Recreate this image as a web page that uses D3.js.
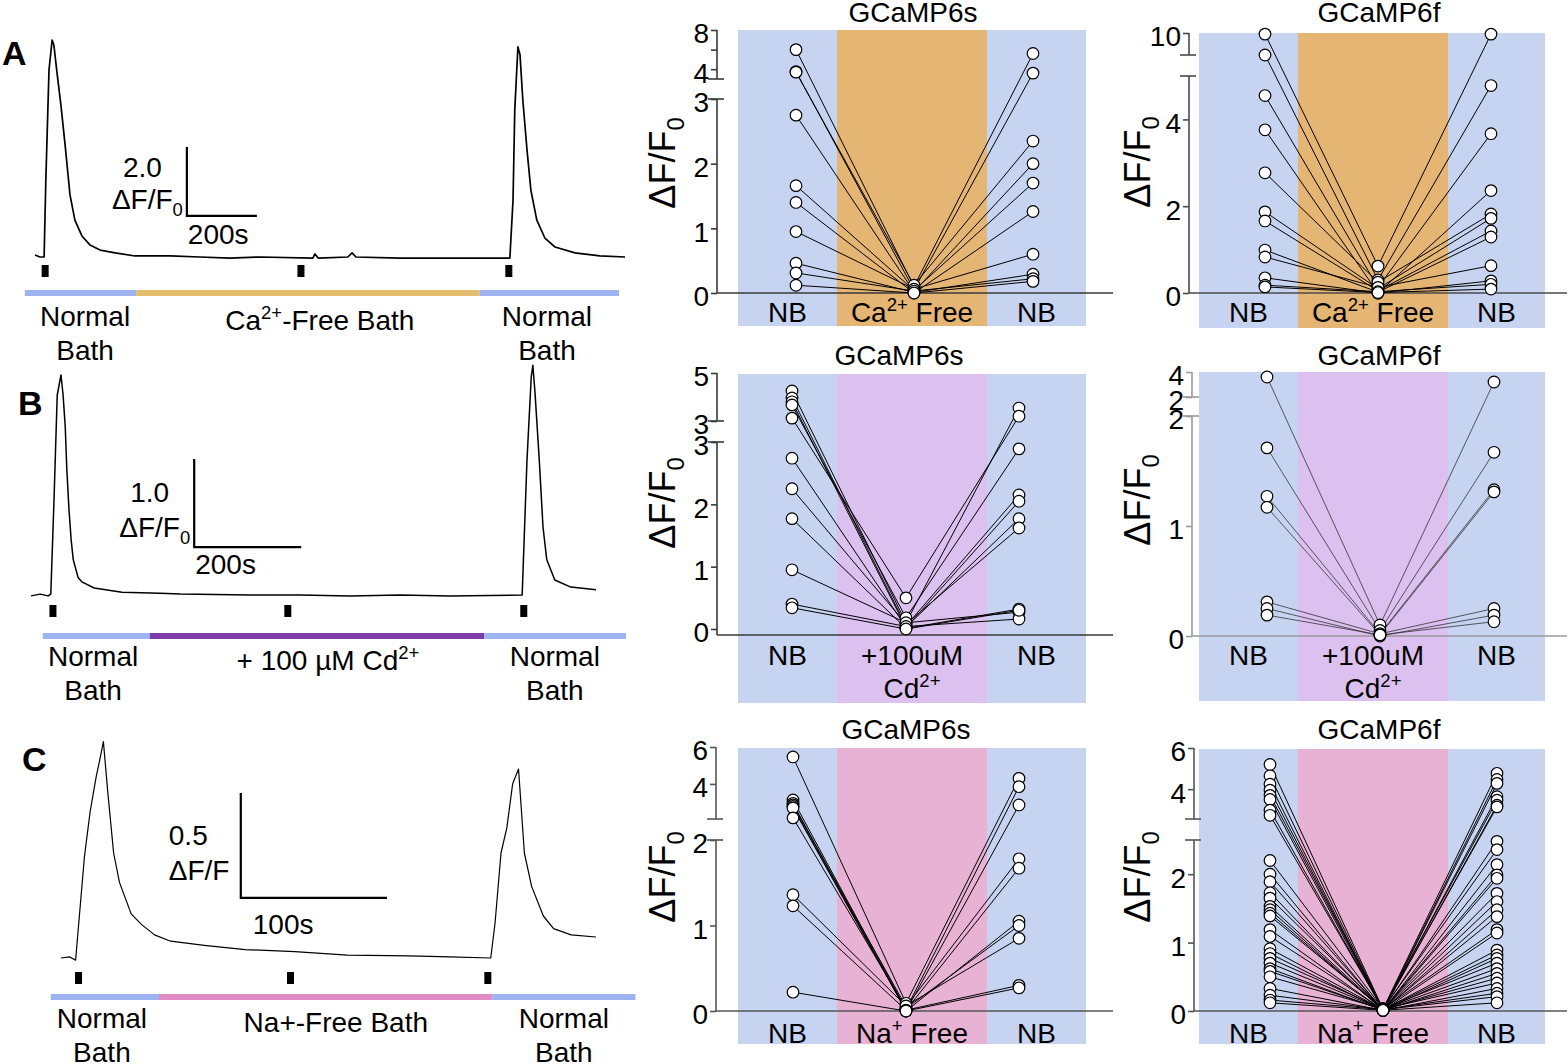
<!DOCTYPE html>
<html>
<head>
<meta charset="utf-8">
<title>Calcium imaging – bath substitution</title>
<script src="https://d3js.org/d3.v7.min.js"></script>
<style>
html, body { margin: 0; padding: 0; background: #fff; }
svg { display: block; font-family: "Liberation Sans", Arial, Helvetica, sans-serif; }
</style>
</head>
<body>
<div id="chart"></div>
<script>
// ---- example traces (time in s, dF/F0) ----
var traceA_t = [0, 14, 26, 31, 40, 49, 54, 63, 74, 86, 100, 114, 134, 157, 186, 229, 286, 386, 471, 557,
  643, 794, 800, 809, 894, 906, 917, 1043, 1186, 1357, 1366, 1371, 1380, 1386, 1394, 1406, 1417, 1434, 1457, 1486,
  1543, 1614, 1686];
var traceA_v = [0.06, 0, 0, 2.23, 5.42, 6.29, 6.14, 5.33, 4.41, 3.25, 1.80, 1.07, 0.61, 0.35, 0.20, 0.12, 0.03, 0.03, 0, -0.03,
  0, -0.03, 0.09, -0.03, 0, 0.12, 0, -0.03, -0.03, -0.03, 1.65, 4.26, 6.09, 5.86, 4.55, 3.10, 1.94, 1.07, 0.55, 0.29,
  0.12, 0.03, 0];
var traceB_t = [0, 17, 32, 37, 43, 49, 56, 60, 64, 67, 71, 75, 79, 88, 95, 118, 170, 241, 279, 409,
  503, 596, 690, 783, 918, 927, 935, 938, 942, 950, 957, 964, 979, 1009, 1056];
var traceB_v = [-0.01, 0.01, -0.01, 0.01, 1.08, 2.27, 2.5, 2.27, 1.91, 1.42, 0.97, 0.63, 0.40, 0.20, 0.15, 0.08, 0.03, 0.02, 0.01, 0,
  0, -0.01, 0, -0.01, 0, 1.53, 2.48, 2.61, 2.30, 1.53, 0.77, 0.40, 0.17, 0.09, 0.06];
var traceC_t = [0, 6, 10, 16, 20, 24, 27, 29, 32, 36, 40, 48, 55, 64, 75, 98, 126, 160, 196, 238,
  266, 294, 297, 301, 305, 309, 313, 317, 322, 330, 337, 349, 366];
var traceC_v = [0, 0.005, -0.01, 0.48, 0.70, 0.86, 0.96, 1.03, 0.79, 0.50, 0.36, 0.21, 0.16, 0.11, 0.08, 0.06, 0.04, 0.03, 0.014, 0.01,
  0.005, 0, 0.17, 0.50, 0.62, 0.83, 0.90, 0.50, 0.34, 0.20, 0.14, 0.11, 0.10];

// stimulus times and perfusion periods (s)
var stimA = [29, 760, 1354], stimB = [41, 480, 921], stimC = [12, 157, 292];
var periodsA = [-29, 289, 1271, 1669];
var periodsB = [22, 222, 847, 1112];
var periodsC = [-7, 67, 295, 393];

// ---- paired responses: NB -> treatment -> NB ----
var a6s_nb1 = [6.0, 3.75, 3.7, 2.75, 1.66, 1.40, 0.95, 0.46, 0.31, 0.12];
var a6s_trt = [0.1, 0.05, 0.12, 0.02, 0.04, 0.0, 0.06, 0.01, 0.03, 0.0];
var a6s_nb2 = [5.6, 3.6, 2.35, 2.0, 1.7, 1.26, 0.6, 0.29, 0.22, 0.18];

var a6f_nb1 = [9.9, 8.0, 4.55, 3.76, 2.77, 1.87, 1.66, 0.99, 0.83, 0.35, 0.18, 0.14];
var a6f_trt = [0.62, 0.30, 0.13, 0.0, 0.25, 0.1, 0.05, 0.02, 0.13, 0.0, 0.03, 0.01];
var a6f_nb2 = [9.9, 4.78, 3.67, 2.36, 1.82, 1.72, 1.43, 1.29, 0.63, 0.28, 0.20, 0.09];

var b6s_nb1 = [4.25, 3.96, 3.8, 3.67, 3.12, 2.74, 2.25, 1.77, 0.95, 0.40, 0.34];
var b6s_trt = [0.1, 0.05, 0.02, 0.18, 0.5, 0.03, 0.08, 0.01, 0.1, 0.04, 0.0];
var b6s_nb2 = [3.54, 2.15, 2.05, 2.89, 3.2, 1.77, 1.62, 0.32, 0.27, 0.16, 0.3];

var b6f_nb1 = [3.6, 1.71, 1.27, 1.17, 0.31, 0.25, 0.19];
var b6f_trt = [0.1, 0.05, 0.02, 0.01, 0.02, 0.0, 0.01];
var b6f_nb2 = [3.2, 1.67, 1.33, 1.31, 0.25, 0.19, 0.13];

var c6s_nb1 = [5.46, 3.13, 2.95, 2.86, 2.78, 2.7, 2.16, 1.36, 1.23, 0.22];
var c6s_trt = [0.09, 0.02, 0.0, 0.05, 0.01, 0.0, 0.03, 0.06, 0.01, 0.0];
var c6s_nb2 = [4.3, 3.85, 2.86, 1.78, 1.67, 1.05, 1.0, 0.85, 0.3, 0.27];

var c6f_nb1 = [5.2, 4.65, 4.24, 3.95, 3.7, 3.5, 2.98, 2.73, 2.2, 2.0, 1.89, 1.73, 1.65, 1.53, 1.48,
  1.43, 1.39, 1.19, 1.09, 0.91, 0.84, 0.77, 0.70, 0.62, 0.58, 0.50, 0.33, 0.23, 0.16, 0.12];
var c6f_trt = [0.03, 0.02, 0.01, 0.02, 0.03, 0.01, 0.02, 0.02, 0.03, 0.01, 0.02, 0.01, 0.03, 0.02, 0.01,
  0.02, 0.03, 0.01, 0.02, 0.02, 0.01, 0.03, 0.02, 0.01, 0.02, 0.03, 0.01, 0.02, 0.02, 0.01];
var c6f_nb2 = [4.77, 4.47, 4.28, 3.63, 3.46, 3.22, 3.14, 2.48, 2.36, 2.14, 1.99, 1.94, 1.72, 1.6, 1.48,
  1.38, 1.19, 1.14, 0.89, 0.82, 0.77, 0.70, 0.62, 0.55, 0.48, 0.41, 0.33, 0.26, 0.21, 0.12];

// broken y axes: lower segment, upper segment, tick values and labels
var a6s_low = [0, 3], a6s_up = [3, 8], a6s_lowTicks = [0, 1, 2, 3], a6s_lowLabels = ["0", "1", "2", "3"], a6s_upTicks = [4, 6, 8], a6s_upLabels = ["4", "", "8"];
var a6f_low = [0, 5], a6f_up = [8, 10], a6f_lowTicks = [0, 2, 4], a6f_lowLabels = ["0", "2", "4"], a6f_upTicks = [10], a6f_upLabels = ["10"];
var b6s_low = [0, 3], b6s_up = [3, 5], b6s_lowTicks = [0, 1, 2, 3], b6s_lowLabels = ["0", "1", "2", "3"], b6s_upTicks = [3, 5], b6s_upLabels = ["3", "5"];
var b6f_low = [0, 2], b6f_up = [2, 4], b6f_lowTicks = [0, 1, 2], b6f_lowLabels = ["0", "1", "2"], b6f_upTicks = [2, 4], b6f_upLabels = ["2", "4"];
var c6s_low = [0, 2], c6s_up = [2.1, 6], c6s_lowTicks = [0, 1, 2], c6s_lowLabels = ["0", "1", "2"], c6s_upTicks = [4, 6], c6s_upLabels = ["4", "6"];
var c6f_low = [0, 2.5], c6f_up = [2.55, 6], c6f_lowTicks = [0, 1, 2], c6f_lowLabels = ["0", "1", "2"], c6f_upTicks = [4, 6], c6f_upLabels = ["4", "6"];

var FONT = 28;
var nbBlue = "#c6d4f1", caOrange = "#e5b574", cdLilac = "#dcc0ef", naPink = "#e8b2d5";
var barBlue = "#9eb4f1", barOrange = "#e4be6c", barPurple = "#7e3ca8", barPink = "#e08bc3";

var svg = d3.select("#chart").append("svg")
  .attr("width", 1568).attr("height", 1064)
  .attr("viewBox", [0, 0, 1568, 1064]);

// text with super/subscripts: parts = [[text, "sup"|"sub"|undefined], ...]
function rich(g, x, y, parts, fs, anchor) {
  var t = g.append("text").attr("x", x).attr("y", y)
    .attr("font-size", fs).attr("text-anchor", anchor || "middle").attr("fill", "#000");
  var cur = 0;
  parts.forEach(function(p) {
    var off = p[1] === "sup" ? -0.4 * fs : p[1] === "sub" ? 0.24 * fs : 0;
    t.append("tspan").attr("dy", off - cur).attr("font-size", p[1] ? 0.66 * fs : fs).text(p[0]);
    cur = off;
  });
  return t;
}

function drawTrace(c) {
  var g = svg.append("g");
  var x = d3.scaleLinear().domain(c.tDomain).range(c.xRange);
  var y = d3.scaleLinear().domain([0, 1]).range([c.y0, c.y0 - c.pxPerUnit]);
  var pts = d3.zip(c.t, c.v);

  g.append("path").datum(pts)
    .attr("fill", "none").attr("stroke", "#000").attr("stroke-width", c.lw)
    .attr("stroke-linejoin", "round")
    .attr("d", d3.line().x(d => x(d[0])).y(d => y(d[1])));

  g.selectAll("rect.stim").data(c.stim).join("rect")
    .attr("x", d => x(d) - 3.5).attr("y", c.stimY).attr("width", 7).attr("height", 12).attr("fill", "#000");

  var segs = d3.pairs(c.periods);
  g.selectAll("rect.bar").data(segs).join("rect")
    .attr("x", d => x(d[0])).attr("width", d => x(d[1]) - x(d[0]))
    .attr("y", c.barY - 3).attr("height", 6)
    .attr("fill", (d, i) => c.barColors[i]);

  c.labels.forEach(function(l) {
    rich(g, x(l.t), l.y, l.parts, FONT, "middle");
  });

  // scale bar
  var sx = x(c.sb.t), sy = y(c.sb.v);
  g.append("path").attr("fill", "none").attr("stroke", "#000").attr("stroke-width", 2.2)
    .attr("d", "M" + sx + "," + y(c.sb.v + c.sb.dv) + "V" + sy + "H" + x(c.sb.t + c.sb.dt));
  c.sb.text.forEach(function(s) {
    rich(g, sx + s.dx, sy + s.dy, s.parts, FONT, s.anchor);
  });

  g.append("text").attr("x", c.letter[0]).attr("y", c.letter[1])
    .attr("font-size", 34).attr("font-weight", "bold").text(c.letter[2]);
}

function drawPaired(c) {
  var g = svg.append("g");
  var lo = d3.scaleLinear().domain(c.low).range(c.lowR);
  var up = d3.scaleLinear().domain(c.up).range(c.upR);
  var yv = v => v <= c.low[1] ? lo(v) : up(Math.max(v, c.up[0]));
  var xp = d3.scalePoint().domain(["nb1", "trt", "nb2"]).range([c.px[0], c.px[2]]);
  // allow a slightly off-centre middle column
  var xOf = k => k === "trt" ? c.px[1] : xp(k);

  var bgCols = [nbBlue, c.treatColor, nbBlue];
  g.selectAll("rect.bg").data(d3.pairs(c.bg)).join("rect")
    .attr("x", d => d[0]).attr("width", d => d[1] - d[0])
    .attr("y", c.bgY[0]).attr("height", c.bgY[1] - c.bgY[0])
    .attr("fill", (d, i) => bgCols[i]);

  // x baseline
  g.append("line").attr("x1", c.axisX).attr("x2", c.axisEnd).attr("y1", c.baseY).attr("y2", c.baseY)
    .attr("stroke", c.axisColor).attr("stroke-width", 1.6);

  var cells = c.nb1.map((v, i) => [["nb1", v], ["trt", c.trt[i]], ["nb2", c.nb2[i]]]);
  g.append("g").selectAll("path").data(cells).join("path")
    .attr("fill", "none").attr("stroke", c.lineColor).attr("stroke-width", c.lineW)
    .attr("d", d3.line().x(d => xOf(d[0])).y(d => yv(d[1])));

  var dots = [];
  cells.forEach(cell => cell.forEach(p => dots.push(p)));
  g.append("g").selectAll("circle").data(dots).join("circle")
    .attr("cx", d => xOf(d[0])).attr("cy", d => yv(d[1])).attr("r", 5.8)
    .attr("fill", "#fff").attr("stroke", "#000").attr("stroke-width", 1.2);

  // y axis (two segments)
  var ax = g.append("g").attr("stroke", c.axisColor).attr("stroke-width", 1.6);
  ax.append("line").attr("x1", c.axisX).attr("x2", c.axisX).attr("y1", c.baseY).attr("y2", c.lowR[1]);
  ax.append("line").attr("x1", c.axisX).attr("x2", c.axisX).attr("y1", c.upR[0]).attr("y2", c.upR[1]);
  [c.lowR[1], c.upR[0]].forEach(function(by) {
    ax.append("line").attr("x1", c.axisX - 9).attr("x2", c.axisX + 7).attr("y1", by).attr("y2", by);
  });

  function seg(scale, ticks, labels) {
    var a = d3.axisLeft(scale).tickValues(ticks).tickSize(6).tickSizeOuter(0).tickPadding(2)
      .tickFormat((d, i) => labels[i]);
    var s = g.append("g").attr("transform", "translate(" + c.axisX + ",0)").call(a);
    s.select(".domain").remove();
    s.selectAll(".tick line").attr("stroke", c.axisColor).attr("stroke-width", 1.6);
    s.selectAll(".tick text").attr("font-size", FONT).attr("fill", "#000")
      .attr("font-family", "'Liberation Sans', Arial, sans-serif").attr("dy", "0.46em");
  }
  seg(lo, c.lowTicks, c.lowLabels);
  seg(up, c.upTicks, c.upLabels);

  // titles and labels
  g.append("text").attr("x", c.title[0]).attr("y", c.title[1]).attr("text-anchor", "middle")
    .attr("font-size", FONT).text(c.title[2]);
  var yl = g.append("g").attr("transform", "translate(" + c.ylab[0] + "," + c.ylab[1] + ") rotate(-90)");
  rich(yl, 0, 0, [["ΔF/F"], ["0", "sub"]], 36, "middle");

  var mids = d3.pairs(c.bg).map(d => (d[0] + d[1]) / 2);
  rich(g, mids[0], c.catY, [["NB"]], FONT, "middle");
  rich(g, mids[2], c.catY, [["NB"]], FONT, "middle");
  c.treatLabel.forEach(function(line, i) {
    rich(g, mids[1], c.catY + i * 33, line, FONT, "middle");
  });
}

// ---- left column: traces ----
drawTrace({
  t: traceA_t, v: traceA_v, stim: stimA, periods: periodsA, barColors: [barBlue, barOrange, barBlue],
  tDomain: [0, 1686], xRange: [35, 625], y0: 257, pxPerUnit: 34.5, lw: 1.7,
  stimY: 265, barY: 293, letter: [2, 65, "A"],
  labels: [
    { t: 143, y: 326, parts: [["Normal"]] }, { t: 143, y: 360, parts: [["Bath"]] },
    { t: 814, y: 330, parts: [["Ca"], ["2+", "sup"], ["-Free Bath"]] },
    { t: 1463, y: 326, parts: [["Normal"]] }, { t: 1463, y: 360, parts: [["Bath"]] }
  ],
  sb: { t: 434, v: 1.19, dv: 2.0, dt: 200, text: [
    { dx: -25, dy: -39, anchor: "end", parts: [["2.0"]] },
    { dx: -4, dy: -7, anchor: "end", parts: [["ΔF/F"], ["0", "sub"]] },
    { dx: 1, dy: 28, anchor: "start", parts: [["200s"]] }
  ] }
});

drawTrace({
  t: traceB_t, v: traceB_v, stim: stimB, periods: periodsB, barColors: [barBlue, barPurple, barBlue],
  tDomain: [0, 1056], xRange: [31, 596], y0: 595, pxPerUnit: 88, lw: 1.5,
  stimY: 605, barY: 636, letter: [18, 415, "B"],
  labels: [
    { t: 116, y: 666, parts: [["Normal"]] }, { t: 116, y: 700, parts: [["Bath"]] },
    { t: 555, y: 670, parts: [["+ 100 µM Cd"], ["2+", "sup"]] },
    { t: 979, y: 666, parts: [["Normal"]] }, { t: 979, y: 700, parts: [["Bath"]] }
  ],
  sb: { t: 305, v: 0.545, dv: 1.0, dt: 200, text: [
    { dx: -25, dy: -45, anchor: "end", parts: [["1.0"]] },
    { dx: -4, dy: -10, anchor: "end", parts: [["ΔF/F"], ["0", "sub"]] },
    { dx: 1, dy: 27, anchor: "start", parts: [["200s"]] }
  ] }
});

drawTrace({
  t: traceC_t, v: traceC_v, stim: stimC, periods: periodsC, barColors: [barBlue, barPink, barBlue],
  tDomain: [0, 366], xRange: [61, 596], y0: 958, pxPerUnit: 210, lw: 1.2,
  stimY: 972, barY: 997, letter: [22, 771, "C"],
  labels: [
    { t: 28, y: 1028, parts: [["Normal"]] }, { t: 28, y: 1062, parts: [["Bath"]] },
    { t: 188, y: 1032, parts: [["Na+-Free Bath"]] },
    { t: 344, y: 1028, parts: [["Normal"]] }, { t: 344, y: 1062, parts: [["Bath"]] }
  ],
  sb: { t: 123, v: 0.286, dv: 0.5, dt: 100, text: [
    { dx: -72, dy: -53, anchor: "start", parts: [["0.5"]] },
    { dx: -72, dy: -18, anchor: "start", parts: [["ΔF/F"]] },
    { dx: 12, dy: 36, anchor: "start", parts: [["100s"]] }
  ] }
});

// ---- paired plots ----
var caLabel = [[["Ca"], ["2+", "sup"], [" Free"]]];
var cdLabel = [[["+100uM"]], [["Cd"], ["2+", "sup"]]];
var naLabel = [[["Na"], ["+", "sup"], [" Free"]]];

drawPaired({ nb1: a6s_nb1, trt: a6s_trt, nb2: a6s_nb2, low: a6s_low, up: a6s_up,
  lowTicks: a6s_lowTicks, lowLabels: a6s_lowLabels, upTicks: a6s_upTicks, upLabels: a6s_upLabels,
  axisX: 717, axisEnd: 1113, baseY: 293, lowR: [293, 99], upR: [79, 30],
  bg: [738, 837, 987, 1086], bgY: [30, 326], px: [796, 914, 1033], treatColor: caOrange,
  axisColor: "#3a3a3a", lineColor: "#000", lineW: 1,
  title: [913, 22, "GCaMP6s"], ylab: [675, 163], catY: 322, treatLabel: caLabel });

drawPaired({ nb1: a6f_nb1, trt: a6f_trt, nb2: a6f_nb2, low: a6f_low, up: a6f_up,
  lowTicks: a6f_lowTicks, lowLabels: a6f_lowLabels, upTicks: a6f_upTicks, upLabels: a6f_upLabels,
  axisX: 1189, axisEnd: 1567, baseY: 293, lowR: [293, 76], upR: [55, 33],
  bg: [1199, 1298, 1448, 1545], bgY: [33, 328], px: [1265, 1378, 1491], treatColor: caOrange,
  axisColor: "#4a4a4a", lineColor: "#000", lineW: 1,
  title: [1379, 22, "GCaMP6f"], ylab: [1150, 162], catY: 322, treatLabel: caLabel });

drawPaired({ nb1: b6s_nb1, trt: b6s_trt, nb2: b6s_nb2, low: b6s_low, up: b6s_up,
  lowTicks: b6s_lowTicks, lowLabels: b6s_lowLabels, upTicks: b6s_upTicks, upLabels: b6s_upLabels,
  axisX: 717, axisEnd: 1113, baseY: 635, lowR: [629, 442], upR: [421, 373],
  bg: [738, 837, 987, 1086], bgY: [374, 703], px: [792, 906, 1019], treatColor: cdLilac,
  axisColor: "#3a3a3a", lineColor: "#000", lineW: 1,
  title: [899, 365, "GCaMP6s"], ylab: [675, 503], catY: 665, treatLabel: cdLabel });

drawPaired({ nb1: b6f_nb1, trt: b6f_trt, nb2: b6f_nb2, low: b6f_low, up: b6f_up,
  lowTicks: b6f_lowTicks, lowLabels: b6f_lowLabels, upTicks: b6f_upTicks, upLabels: b6f_upLabels,
  axisX: 1192, axisEnd: 1567, baseY: 636, lowR: [636, 416], upR: [397, 372],
  bg: [1199, 1298, 1448, 1545], bgY: [372, 701], px: [1267, 1380, 1494], treatColor: cdLilac,
  axisColor: "#9a9a9a", lineColor: "#333", lineW: 0.8,
  title: [1379, 365, "GCaMP6f"], ylab: [1150, 500], catY: 665, treatLabel: cdLabel });

drawPaired({ nb1: c6s_nb1, trt: c6s_trt, nb2: c6s_nb2, low: c6s_low, up: c6s_up,
  lowTicks: c6s_lowTicks, lowLabels: c6s_lowLabels, upTicks: c6s_upTicks, upLabels: c6s_upLabels,
  axisX: 716, axisEnd: 1113, baseY: 1011, lowR: [1011, 840], upR: [819, 747],
  bg: [738, 837, 987, 1086], bgY: [748, 1044], px: [793, 906, 1019], treatColor: naPink,
  axisColor: "#555", lineColor: "#000", lineW: 1,
  title: [906, 739, "GCaMP6s"], ylab: [675, 877], catY: 1043, treatLabel: naLabel });

drawPaired({ nb1: c6f_nb1, trt: c6f_trt, nb2: c6f_nb2, low: c6f_low, up: c6f_up,
  lowTicks: c6f_lowTicks, lowLabels: c6f_lowLabels, upTicks: c6f_upTicks, upLabels: c6f_upLabels,
  axisX: 1194, axisEnd: 1567, baseY: 1011, lowR: [1011, 840], upR: [819, 748],
  bg: [1199, 1298, 1448, 1545], bgY: [749, 1044], px: [1270, 1383, 1497], treatColor: naPink,
  axisColor: "#555", lineColor: "#000", lineW: 1,
  title: [1379, 739, "GCaMP6f"], ylab: [1150, 877], catY: 1043, treatLabel: naLabel });
</script>
</body>
</html>
